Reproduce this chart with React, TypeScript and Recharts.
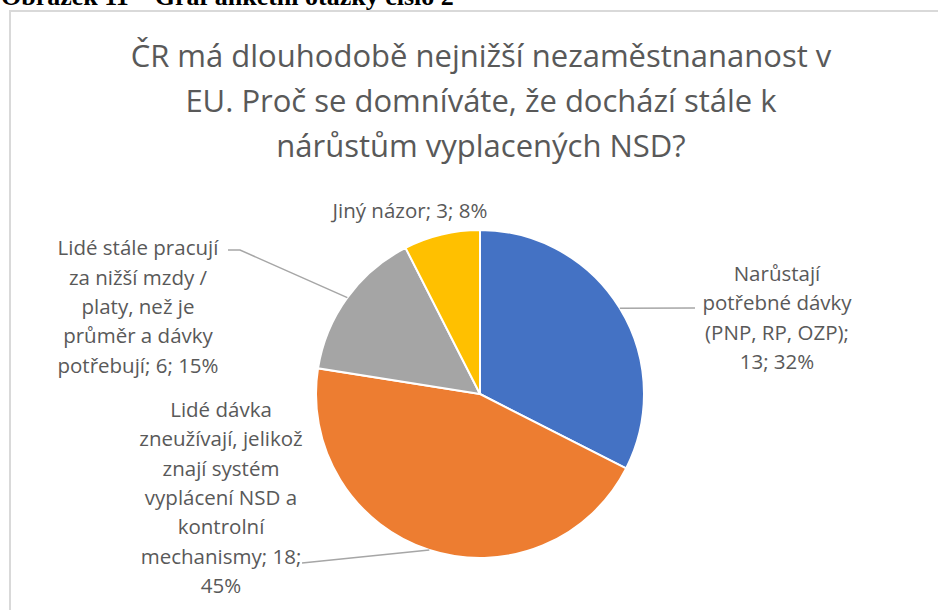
import { PieChart, Pie, Cell } from 'recharts';

// survey answers (question 2)
const categories = [
  'Narůstají potřebné dávky (PNP, RP, OZP)',
  'Lidé dávka zneužívají, jelikož znají systém vyplácení NSD a kontrolní mechanismy',
  'Lidé stále pracují za nižší mzdy / platy, než je průměr a dávky potřebují',
  'Jiný názor',
];
const counts = [13, 18, 6, 3];
const percents = ['32%', '45%', '15%', '8%'];

const COLORS = ['#4472C4', '#ED7D31', '#A5A5A5', '#FFC000'];

const titleLines = [
  'ČR má dlouhodobě nejnižší nezaměstnananost v',
  'EU. Proč se domníváte, že dochází stále k',
  'nárůstům vyplacených NSD?',
];

// how many words go on each label line
const wordsPerLine = [
  [1, 2, 3, 2],
  [2, 2, 2, 3, 1, 2, 1],
  [3, 4, 3, 3, 3],
  [4],
];

// label placement relative to pie centre (like Excel "best fit")
const labelLayout = [
  { dx: 297, dy: -77, line: [[215, -86]] },
  { dx: -259, dy: 103, line: [[-178, 169]] },
  { dx: -342, dy: -88, line: [[-240, -144], [-252, -144]] },
  { dx: -70, dy: -184, line: [] as number[][] },
];

const CX = 480;
const CY = 394;
const LINE_H = 29.3;
const TEXT = '#595959';
const FONT = '"Open Sans", sans-serif';

const data = categories.map((name, i) => ({ name, value: counts[i] }));

const wrapLabel = (i: number) => {
  const words = `${categories[i]}; ${counts[i]}; ${percents[i]}`.split(' ');
  const lines: string[] = [];
  let k = 0;
  wordsPerLine[i].forEach(n => {
    lines.push(words.slice(k, k + n).join(' '));
    k += n;
  });
  return lines;
};

const renderLabel = (props: any) => {
  const { index } = props;
  const cx = props.cx ?? CX;
  const cy = props.cy ?? CY;
  const lay = labelLayout[index];
  const lines = wrapLabel(index);
  const x = cx + lay.dx;
  const y0 = cy + lay.dy - ((lines.length - 1) / 2) * LINE_H;
  return (
    <text
      key={`lbl-${index}`}
      x={x}
      y={y0}
      textAnchor="middle"
      fill={TEXT}
      fontSize={20.5}
      fontFamily={FONT}
    >
      {lines.map((l, j) => (
        <tspan key={j} x={x} y={y0 + j * LINE_H} dominantBaseline="central">
          {l}
        </tspan>
      ))}
    </text>
  );
};

const renderLabelLine = (props: any) => {
  const { index } = props;
  const lay = labelLayout[index];
  if (!lay.line.length) return <g key={`ll-${index}`} />;
  const cx = props.cx ?? CX;
  const cy = props.cy ?? CY;
  const start = props.points?.[0];
  const pts = [[start.x, start.y], ...lay.line.map(([dx, dy]) => [cx + dx, cy + dy])];
  return (
    <polyline
      key={`ll-${index}`}
      points={pts.map(p => p.join(',')).join(' ')}
      fill="none"
      stroke="#A6A6A6"
      strokeWidth={1.5}
    />
  );
};

export default function App() {
  return (
    <div
      style={{
        position: 'absolute',
        left: 0,
        top: 0,
        width: 938,
        height: 610,
        overflow: 'hidden',
        background: '#fff',
      }}
    >
      <div
        style={{
          position: 'absolute',
          left: 1,
          top: -16,
          whiteSpace: 'nowrap',
          fontFamily: '"Liberation Serif", serif',
          fontWeight: 'bold',
          fontSize: 26,
          lineHeight: '26px',
          color: '#000',
        }}
      >
        Obrázek 11 – Graf anketní otázky číslo 2
      </div>
      <div
        style={{
          position: 'absolute',
          left: 9,
          top: 10,
          width: 940,
          height: 620,
          borderLeft: '2px solid #D9D9D9',
          borderTop: '2px solid #D9D9D9',
        }}
      />
      <div
        style={{
          position: 'absolute',
          left: 0,
          top: 33,
          width: 962,
          textAlign: 'center',
          fontFamily: FONT,
          fontSize: 31,
          lineHeight: '45px',
          color: TEXT,
        }}
      >
        {titleLines.map(t => (
          <div key={t}>{t}</div>
        ))}
      </div>
      <div style={{ position: 'absolute', left: 0, top: 0 }}>
        <PieChart width={938} height={610} margin={{ top: 0, right: 0, bottom: 0, left: 0 }}>
          <Pie
            data={data}
            dataKey="value"
            nameKey="name"
            cx={CX}
            cy={CY}
            outerRadius={164}
            startAngle={90}
            endAngle={-270}
            stroke="#fff"
            strokeWidth={2}
            label={renderLabel}
            labelLine={renderLabelLine}
            isAnimationActive={false}
          >
            {data.map((d, i) => (
              <Cell key={d.name} fill={COLORS[i]} />
            ))}
          </Pie>
        </PieChart>
      </div>
    </div>
  );
}
